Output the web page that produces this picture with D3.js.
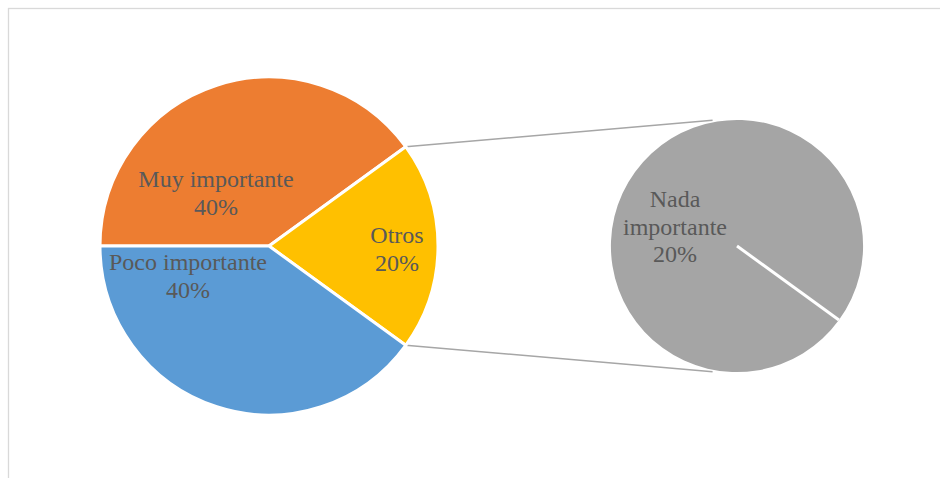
<!DOCTYPE html>
<html><head><meta charset="utf-8">
<script src="https://cdn.jsdelivr.net/npm/d3@7"></script>
<style>body{margin:0;background:#fff}svg{display:block}
text{font-family:"Liberation Serif","Times New Roman","DejaVu Serif",serif}</style>
</head><body>
<svg id="c" width="940" height="478"></svg>
<script>
const categories = ["Muy importante", "Otros", "Poco importante"];
const values = [40, 20, 40];
const colors = ["#ED7D31", "#FFC000", "#5B9BD5"];
const subCategories = ["Nada importante"];
const subValues = [20];
const subColors = ["#A5A5A5"];
const labelLines = [["Muy importante", "40%"], ["Otros", "20%"], ["Poco importante", "40%"]];
const subLabelLines = [["Nada", "importante", "20%"]];

const svg = d3.select("#c");
svg.append("rect").attr("x", 8.5).attr("y", 8.5).attr("width", 1000).attr("height", 1000)
  .attr("fill", "none").attr("stroke", "#d9d9d9").attr("stroke-width", 1.3);

const c1 = [269, 246], r1 = 169;
const c2 = [737, 246], r2 = 126;

const pie = d3.pie().sort(null).startAngle(-Math.PI / 2).endAngle(1.5 * Math.PI);
const arcs = pie(values);
const arc = d3.arc().innerRadius(0).outerRadius(r1);
const otros = arcs[1];

// connector lines
const pt = (c, r, a) => [c[0] + r * Math.sin(a), c[1] - r * Math.cos(a)];
const off = 11 * Math.PI / 180;
const p1a = pt(c1, r1, otros.startAngle), p1b = pt(c1, r1, otros.endAngle);
const p2a = pt(c2, 128, -off), p2b = pt(c2, 128, Math.PI + off);
svg.append("line").attr("x1", p1a[0]).attr("y1", p1a[1]).attr("x2", p2a[0]).attr("y2", p2a[1])
  .attr("stroke", "#a6a6a6").attr("stroke-width", 1.5);
svg.append("line").attr("x1", p1b[0]).attr("y1", p1b[1]).attr("x2", p2b[0]).attr("y2", p2b[1])
  .attr("stroke", "#a6a6a6").attr("stroke-width", 1.5);

const g1 = svg.append("g").attr("transform", `translate(${c1[0]},${c1[1]})`);
g1.selectAll("path").data(arcs).join("path")
  .attr("d", arc).attr("fill", (d, i) => colors[i])
  .attr("stroke", "#fff").attr("stroke-width", 3).attr("stroke-linejoin", "round");

// secondary pie
const subStart = otros.endAngle;
const subPie = d3.pie().sort(null).startAngle(subStart).endAngle(subStart + 2 * Math.PI);
const subArcs = subPie(subValues);
const subArc = d3.arc().innerRadius(0).outerRadius(r2);
const g2 = svg.append("g").attr("transform", `translate(${c2[0]},${c2[1]})`);
g2.selectAll("path").data(subArcs).join("path")
  .attr("d", subArc).attr("fill", (d, i) => subColors[i]);
const e = pt([0, 0], r2, subStart);
g2.append("line").attr("x1", 0).attr("y1", 0).attr("x2", e[0]).attr("y2", e[1])
  .attr("stroke", "#fff").attr("stroke-width", 3);

// labels
const labelPos = [[216, 187], [397, 243], [188, 270]];
const subLabelPos = [[675, 207]];
function drawLabel(lines, pos) {
  const t = svg.append("text").attr("text-anchor", "middle")
    .style("font-size", "24px").attr("fill", "#595959");
  lines.forEach((s, i) => t.append("tspan").attr("x", pos[0]).attr("y", pos[1] + i * 27.5).text(s));
}
labelLines.forEach((l, i) => drawLabel(l, labelPos[i]));
subLabelLines.forEach((l, i) => drawLabel(l, subLabelPos[i]));
</script>
</body></html>
